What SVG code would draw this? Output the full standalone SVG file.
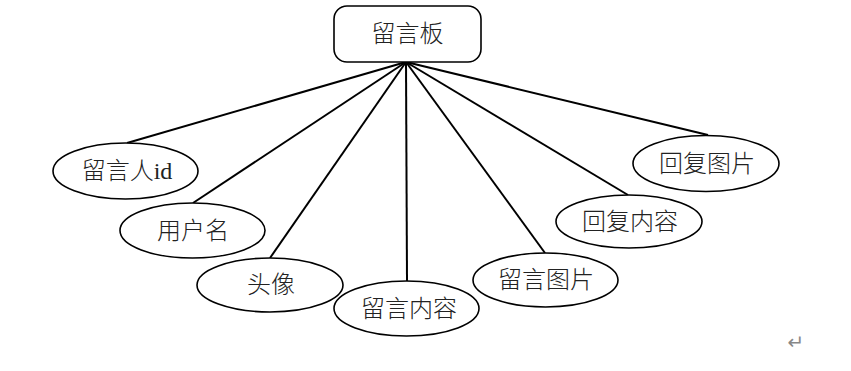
<svg xmlns="http://www.w3.org/2000/svg" width="851" height="371" viewBox="0 0 851 371">
<style>
.n{fill:#fff;stroke:#000;stroke-width:1.6}
.t{font-family:"Liberation Serif","Noto Sans CJK SC",serif;font-size:24px;font-weight:300;fill:#222;text-anchor:middle}
.c{stroke:#000;stroke-width:2;fill:none}
</style>
<rect width="851" height="371" fill="#fff"/>
<g id="connectors">
<line class="c" x1="406" y1="62" x2="127" y2="143"/>
<line class="c" x1="406" y1="62" x2="193" y2="203"/>
<line class="c" x1="406" y1="62" x2="270" y2="258"/>
<line class="c" x1="406" y1="62" x2="407" y2="281"/>
<line class="c" x1="406" y1="62" x2="545" y2="253"/>
<line class="c" x1="406" y1="62" x2="628" y2="195"/>
<line class="c" x1="406" y1="62" x2="708" y2="135"/>
</g>
<g id="root"><rect class="n" x="334" y="6" width="147" height="56" rx="13"/><text class="t" x="407.5" y="42">留言板</text></g>
<g id="n1"><ellipse class="n" cx="125.5" cy="171" rx="72.5" ry="28"/><text class="t" x="127" y="179">留言人id</text></g>
<g id="n2"><ellipse class="n" cx="192.5" cy="230.5" rx="72.5" ry="27.5"/><text class="t" x="193" y="239">用户名</text></g>
<g id="n3"><ellipse class="n" cx="270" cy="285" rx="73" ry="27"/><text class="t" x="271" y="293">头像</text></g>
<g id="n4"><ellipse class="n" cx="406.5" cy="308.5" rx="72.5" ry="27.5"/><text class="t" x="409" y="317">留言内容</text></g>
<g id="n5"><ellipse class="n" cx="545.5" cy="280" rx="72.5" ry="27"/><text class="t" x="546" y="288">留言图片</text></g>
<g id="n6"><ellipse class="n" cx="629" cy="221.5" rx="73" ry="26.5"/><text class="t" x="630" y="230">回复内容</text></g>
<g id="n7"><ellipse class="n" cx="706" cy="163.5" rx="73" ry="28"/><text class="t" x="707" y="172">回复图片</text></g>
<text x="796" y="349" font-family="DejaVu Sans,sans-serif" font-size="20" fill="#888" text-anchor="middle">↵</text>
</svg>
